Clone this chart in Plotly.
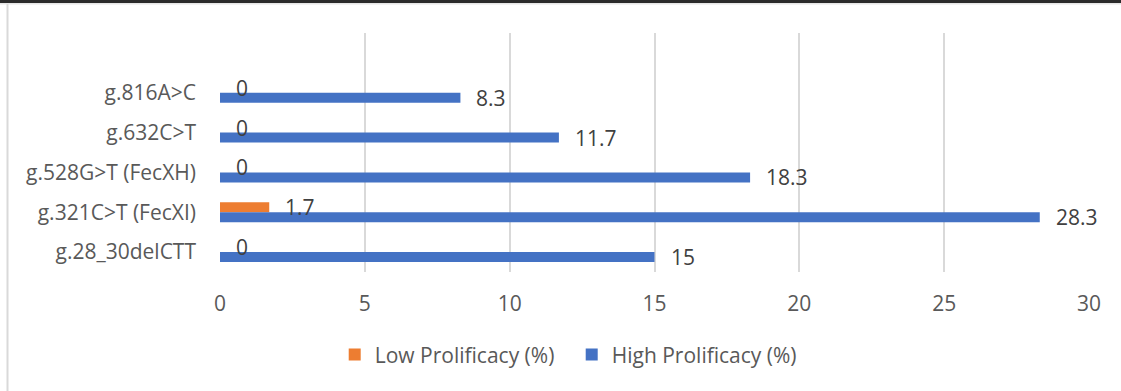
import plotly.graph_objects as go

# Variant sites (bottom to top) and frequencies per prolificacy group
categories = ["g.28_30delCTT", "g.321C>T (FecXI)", "g.528G>T (FecXH)", "g.632C>T", "g.816A>C"]
low_prolificacy = [0, 1.7, 0, 0, 0]
high_prolificacy = [15, 28.3, 18.3, 11.7, 8.3]
x_ticks = [0, 5, 10, 15, 20, 25, 30]

ORANGE = "#ED7D31"
BLUE = "#4472C4"
TEXT = "#595959"
FONT = "Open Sans"
FS = 21
BAR_W = 0.25

pos = list(range(len(categories)))

fig = go.Figure()
fig.add_trace(go.Bar(
    name="Low Prolificacy (%)", orientation="h",
    x=low_prolificacy, y=pos, width=BAR_W, offset=0,
    marker=dict(color=ORANGE, line=dict(width=0)),
))
fig.add_trace(go.Bar(
    name="High Prolificacy (%)", orientation="h",
    x=high_prolificacy, y=pos, width=BAR_W, offset=-BAR_W,
    marker=dict(color=BLUE, line=dict(width=0)),
))

# value labels just past the end of each bar
annotations = []
for vals, shift in ((low_prolificacy, BAR_W / 2), (high_prolificacy, -BAR_W / 2)):
    for p, v in zip(pos, vals):
        annotations.append(dict(
            x=v, y=p + shift, xref="x", yref="y", text=f"{v:g}",
            showarrow=False, xanchor="left", yanchor="middle", xshift=14,
            font=dict(family=FONT, size=FS, color="#404040"),
        ))

shapes = [
    # dark strip along the top edge
    dict(type="rect", xref="paper", yref="paper", xsizemode="pixel", ysizemode="pixel",
         xanchor=0, yanchor=1, x0=-230, x1=1000, y0=30, y1=40,
         fillcolor="#2b2b2b", line=dict(width=0), layer="above"),
    dict(type="rect", xref="paper", yref="paper", xsizemode="pixel", ysizemode="pixel",
         xanchor=0, yanchor=1, x0=-230, x1=1000, y0=28.5, y1=30,
         fillcolor="#e6e6e6", line=dict(width=0), layer="above"),
    # light frame edge on the left
    dict(type="rect", xref="paper", yref="paper", xsizemode="pixel", ysizemode="pixel",
         xanchor=0, yanchor=1, x0=-213.5, x1=-211.5, y0=29, y1=-400,
         fillcolor="#d9d9d9", line=dict(width=0), layer="above"),
]

fig.update_layout(
    width=1121, height=391,
    margin=dict(l=219.5, r=31.7, t=33, b=119),
    paper_bgcolor="white", plot_bgcolor="white",
    barmode="overlay",
    font=dict(family=FONT, size=FS, color=TEXT),
    showlegend=True,
    legend=dict(
        orientation="h", x=0.132, xanchor="left", y=-0.347, yanchor="middle",
        font=dict(family=FONT, size=FS, color=TEXT),
        bgcolor="rgba(0,0,0,0)", traceorder="normal",
        entrywidth=192, entrywidthmode="pixels",
    ),
    annotations=annotations,
    shapes=shapes,
)
fig.update_xaxes(
    range=[0, 30], tickvals=x_ticks, showgrid=True, gridcolor="#d9d9d9", gridwidth=1.5,
    zeroline=False, showline=False, ticks="", ticklabelstandoff=17,
    tickfont=dict(family=FONT, size=FS, color=TEXT), fixedrange=True,
)
fig.update_yaxes(
    range=[-0.5, 5.5], tickvals=pos, ticktext=categories, showgrid=False,
    zeroline=False, showline=False, ticks="", ticklabelstandoff=23,
    tickfont=dict(family=FONT, size=FS, color=TEXT), fixedrange=True,
)

fig.write_html("out.html")
